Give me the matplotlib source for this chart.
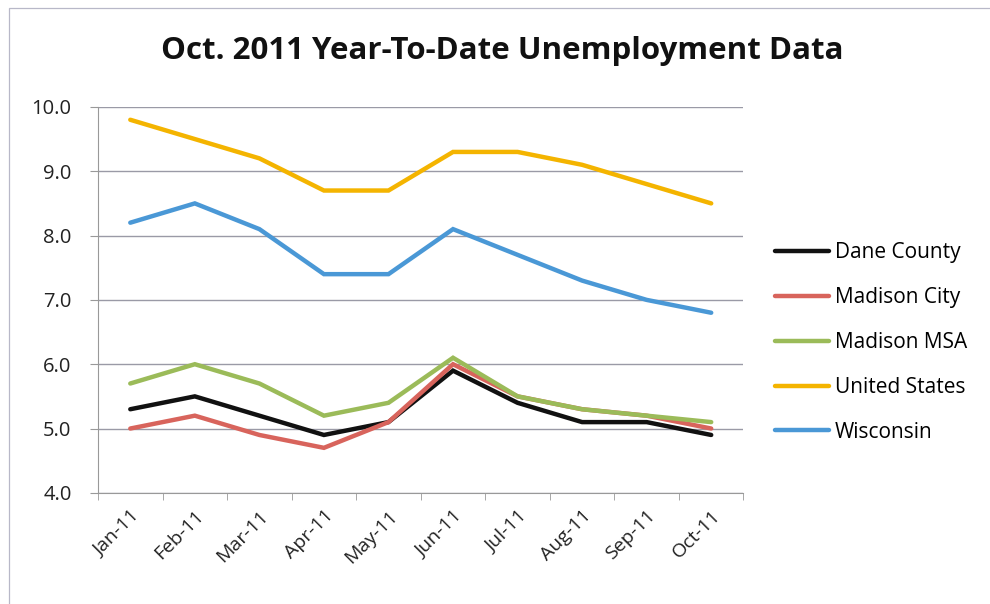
import matplotlib.pyplot as plt
import matplotlib.patches as mpatches

months = ["Jan-11", "Feb-11", "Mar-11", "Apr-11", "May-11",
          "Jun-11", "Jul-11", "Aug-11", "Sep-11", "Oct-11"]
dane_county = [5.3, 5.5, 5.2, 4.9, 5.1, 5.9, 5.4, 5.1, 5.1, 4.9]
madison_city = [5.0, 5.2, 4.9, 4.7, 5.1, 6.0, 5.5, 5.3, 5.2, 5.0]
madison_msa = [5.7, 6.0, 5.7, 5.2, 5.4, 6.1, 5.5, 5.3, 5.2, 5.1]
united_states = [9.8, 9.5, 9.2, 8.7, 8.7, 9.3, 9.3, 9.1, 8.8, 8.5]
wisconsin = [8.2, 8.5, 8.1, 7.4, 7.4, 8.1, 7.7, 7.3, 7.0, 6.8]

series = [
    ("Dane County", dane_county, "#111111"),
    ("Madison City", madison_city, "#d8645c"),
    ("Madison MSA", madison_msa, "#9bbb59"),
    ("United States", united_states, "#f4b400"),
    ("Wisconsin", wisconsin, "#4a98d6"),
]

plt.rcParams["font.family"] = ["Open Sans", "DejaVu Sans"]

fig = plt.figure(figsize=(9.9, 6.04), dpi=100)
fig.patch.set_facecolor("white")
# thin frame around the chart area
fig.patches.append(mpatches.Rectangle((0.009, -0.02), 1.2, 1.006,
                                      transform=fig.transFigure, fill=False,
                                      edgecolor="#b8b8c8", linewidth=0.9))

ax = fig.add_axes([0.099, 0.184, 0.652, 0.639])
x = list(range(len(months)))
for name, vals, color in series:
    ax.plot(x, vals, color=color, linewidth=3.2, label=name,
            solid_joinstyle="miter", solid_capstyle="round", zorder=3)

ax.set_xlim(-0.5, len(months) - 0.5)
ax.set_ylim(4.0, 10.0)
ax.set_yticks([4, 5, 6, 7, 8, 9, 10])
ax.set_yticklabels([f"{v:.1f}" for v in [4, 5, 6, 7, 8, 9, 10]],
                   fontsize=14.5, color="#222222")
ax.set_xticks(x)
ax.set_xticklabels(months, rotation=45, ha="right", rotation_mode="anchor",
                   fontsize=14, color="#222222")
ax.set_xticks([i - 0.5 for i in range(len(months) + 1)], minor=True)
ax.tick_params(axis="x", which="major", length=0, pad=10)
ax.tick_params(axis="x", which="minor", length=5, color="#999999")
ax.tick_params(axis="y", length=6, color="#999999", pad=13)

ax.grid(axis="y", color="#9a9aa6", linewidth=1.0, zorder=0)
for side in ["top", "right"]:
    ax.spines[side].set_visible(False)
ax.spines["left"].set_color("#999999")
ax.spines["bottom"].set_color("#999999")

fig.text(0.507, 0.915, "Oct. 2011 Year-To-Date Unemployment Data",
         ha="center", va="center", fontsize=22.5, fontweight="bold",
         color="#111111")

ax.legend(loc="center left", bbox_to_anchor=(1.02, 0.39), frameon=False,
          fontsize=15, handlelength=2.6, labelspacing=1.15,
          handletextpad=0.25)

fig.savefig("out.png", dpi=100)
